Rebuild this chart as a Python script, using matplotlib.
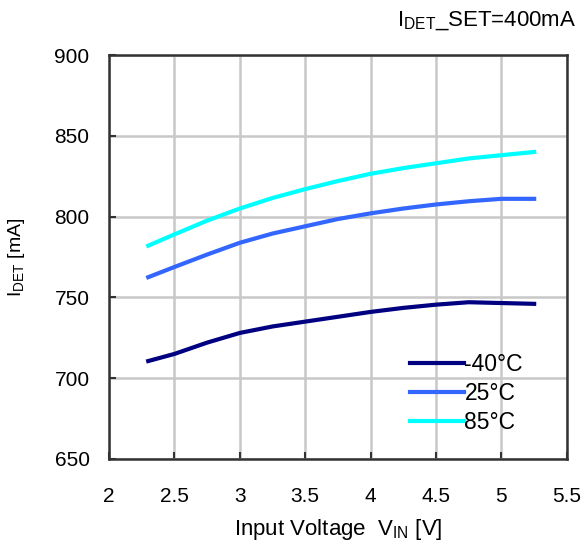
import matplotlib
matplotlib.use('Agg')
import matplotlib.pyplot as plt

# data
vin = [2.3, 2.5, 2.75, 3.0, 3.25, 3.5, 3.75, 4.0, 4.25, 4.5, 4.75, 5.0, 5.25]
idet_m40 = [710.6, 715, 722, 728, 732, 735, 738, 741, 743.5, 745.5, 747, 746.5, 746]
idet_25 = [762.5, 768.8, 776.5, 783.8, 789.5, 794, 798.5, 802, 805, 807.5, 809.5, 811, 811]
idet_85 = [782, 789, 797.5, 805, 811.5, 817, 822, 826.5, 830, 833, 836, 838, 840]
labels = ['-40°C', '25°C', '85°C']
colors = ['#000080', '#3366FF', '#00FFFF']

xticks = [2, 2.5, 3, 3.5, 4, 4.5, 5, 5.5]
yticks = [650, 700, 750, 800, 850, 900]

plt.rcParams['font.family'] = ['Liberation Sans', 'DejaVu Sans']
plt.rcParams['font.size'] = 14

fig = plt.figure(figsize=(5.85, 5.49), dpi=100)
ax = fig.add_axes([0.1863, 0.164, 0.7827, 0.7358])

for y, lab, c in zip([idet_m40, idet_25, idet_85], labels, colors):
    ax.plot(vin, y, color=c, lw=3, label=lab)

ax.set_xlim(2, 5.5)
ax.set_ylim(650, 900)
ax.set_xticks(xticks)
ax.set_xticklabels(['2', '2.5', '3', '3.5', '4', '4.5', '5', '5.5'])
ax.set_yticks(yticks)
ax.grid(True, color='#C8C8C8', lw=1.8)
ax.set_axisbelow(True)
ax.tick_params(direction='in', length=5, width=1.5, color='#333333', labelsize=15)
ax.tick_params(axis='y', pad=14)
ax.tick_params(axis='x', pad=20)
for s in ax.spines.values():
    s.set_linewidth(1.8)
    s.set_color('#333333')

ax.set_xlabel(r'Input Voltage  V$_{\mathregular{IN}}$ [V]', fontsize=16, labelpad=8)
ax.set_ylabel(r'I$_{\mathregular{DET}}$ [mA]', labelpad=20)
fig.text(0.985, 0.962, r'I$_{\mathregular{DET}}$_SET=400mA', fontsize=16,
         ha='right', va='center')

ax.legend(loc='lower right', bbox_to_anchor=(0.924, 0.04), frameon=False,
          fontsize=16.5, handlelength=2.36, handletextpad=0.02,
          labelspacing=0.25, borderaxespad=0)

fig.savefig('out.png', dpi=100)
